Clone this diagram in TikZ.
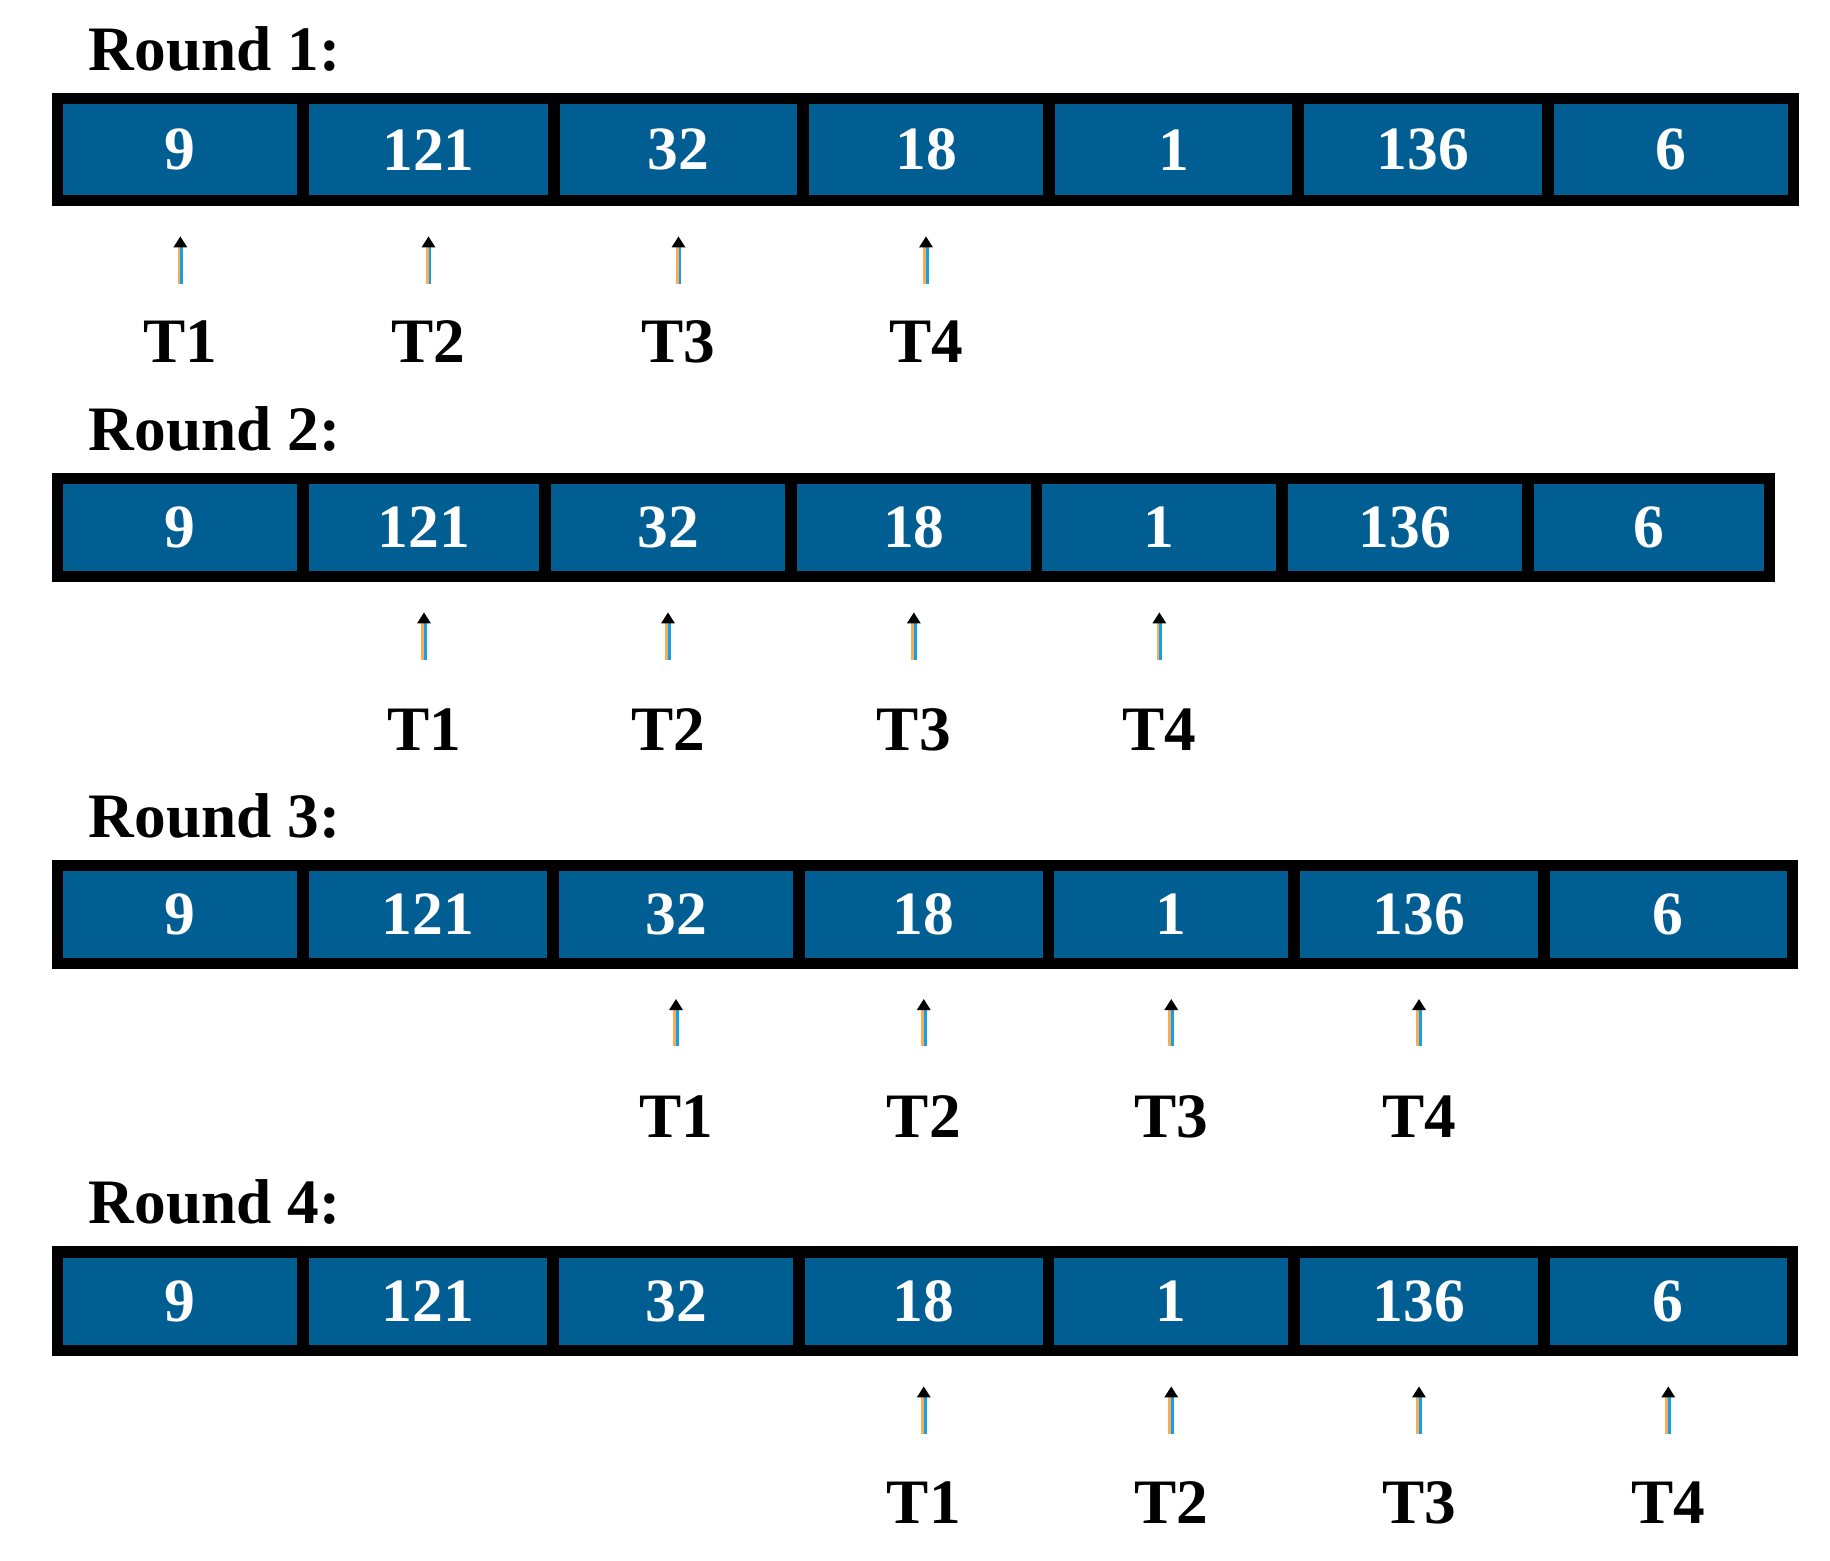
\documentclass[tikz,border=0pt]{standalone}
\usepackage{fontspec}
\setmainfont{Liberation Serif}
\definecolor{cellblue}{RGB}{0,94,146}
\definecolor{arrOr}{RGB}{250,172,84}
\definecolor{arrBl}{RGB}{20,160,230}
\tikzset{
  cell/.style={draw=black, fill=cellblue, line width=0.115cm, inner sep=0pt, text=white,
    font=\fontsize{17.5}{20}\selectfont\bfseries},
  lbl/.style={inner sep=0pt, font=\fontsize{18}{21}\selectfont\bfseries},
  roundtitle/.style={inner sep=0pt, anchor=base west, font=\fontsize{18}{21}\selectfont\bfseries},
  shaftor/.style={draw=arrOr, line width=0.028cm},
  shaftbl/.style={draw=arrBl, line width=0.028cm},
  headfill/.style={fill=black},
}
\newcommand{\mkcell}[6]{%
  \pgfmathsetmacro\cw{(#3-#2)*0.01}%
  \pgfmathsetmacro\ch{(#5-#4)*0.01}%
  \node[cell, minimum width=\cw cm, minimum height=\ch cm] (#1) at ({(#2+#3)/2},{(#4+#5)/2}) {#6};}
\newcommand{\mkptr}[1]{%
  \draw[shaftor] ([xshift=-0.014cm,yshift=-0.77cm]#1.south) -- ([xshift=-0.014cm,yshift=-0.38cm]#1.south);
  \draw[shaftbl] ([xshift=0.014cm,yshift=-0.77cm]#1.south) -- ([xshift=0.014cm,yshift=-0.38cm]#1.south);
  \fill[headfill] ([yshift=-0.30cm]#1.south) -- ++(-0.07cm,-0.11cm) -- ++(0.14cm,0cm) -- cycle;}
\begin{document}
\begin{tikzpicture}[x=0.01cm, y=-0.01cm]
\fill[white] (0,0) rectangle (1830,1560);
\useasboundingbox (0,0) rectangle (1830,1560);

% Round 1
\node[roundtitle] (r1) at (88,70) {Round 1:};
\mkcell{c11}{57.7}{303}{98.7}{200.7}{9}
\mkcell{c12}{303}{554}{98.7}{200.7}{121}
\mkcell{c13}{554}{803}{98.7}{200.7}{32}
\mkcell{c14}{803}{1049}{98.7}{200.7}{18}
\mkcell{c15}{1049}{1298}{98.7}{200.7}{1}
\mkcell{c16}{1298}{1548}{98.7}{200.7}{136}
\mkcell{c17}{1548}{1793.3}{98.7}{200.7}{6}
\mkptr{c11}\mkptr{c12}\mkptr{c13}\mkptr{c14}
\node[lbl] (t11) at (180.35,341.5) {T1};
\node[lbl] (t12) at (428.5,341.5) {T2};
\node[lbl] (t13) at (678.5,341.5) {T3};
\node[lbl] (t14) at (926,341.5) {T4};

% Round 2
\node[roundtitle] (r2) at (88,450) {Round 2:};
\mkcell{c21}{57.7}{303}{478.3}{576.7}{9}
\mkcell{c22}{303}{545}{478.3}{576.7}{121}
\mkcell{c23}{545}{791}{478.3}{576.7}{32}
\mkcell{c24}{791}{1036.7}{478.3}{576.7}{18}
\mkcell{c25}{1036.7}{1282}{478.3}{576.7}{1}
\mkcell{c26}{1282}{1528}{478.3}{576.7}{136}
\mkcell{c27}{1528}{1769.7}{478.3}{576.7}{6}
\mkptr{c22}\mkptr{c23}\mkptr{c24}\mkptr{c25}
\node[lbl] (t21) at (424,729.5) {T1};
\node[lbl] (t22) at (668,729.5) {T2};
\node[lbl] (t23) at (913.85,729.5) {T3};
\node[lbl] (t24) at (1159.35,729.5) {T4};

% Round 3
\node[roundtitle] (r3) at (88,837) {Round 3:};
\mkcell{c31}{57.7}{303}{865.3}{963.3}{9}
\mkcell{c32}{303}{553}{865.3}{963.3}{121}
\mkcell{c33}{553}{799}{865.3}{963.3}{32}
\mkcell{c34}{799}{1048.5}{865.3}{963.3}{18}
\mkcell{c35}{1048.5}{1294}{865.3}{963.3}{1}
\mkcell{c36}{1294}{1544}{865.3}{963.3}{136}
\mkcell{c37}{1544}{1792.5}{865.3}{963.3}{6}
\mkptr{c33}\mkptr{c34}\mkptr{c35}\mkptr{c36}
\node[lbl] (t31) at (676,1117) {T1};
\node[lbl] (t32) at (923.75,1117) {T2};
\node[lbl] (t33) at (1171.25,1117) {T3};
\node[lbl] (t34) at (1419,1117) {T4};

% Round 4
\node[roundtitle] (r4) at (88,1223.5) {Round 4:};
\mkcell{c41}{57.7}{303}{1252}{1350.7}{9}
\mkcell{c42}{303}{553}{1252}{1350.7}{121}
\mkcell{c43}{553}{799}{1252}{1350.7}{32}
\mkcell{c44}{799}{1048.5}{1252}{1350.7}{18}
\mkcell{c45}{1048.5}{1294}{1252}{1350.7}{1}
\mkcell{c46}{1294}{1544}{1252}{1350.7}{136}
\mkcell{c47}{1544}{1792.5}{1252}{1350.7}{6}
\mkptr{c44}\mkptr{c45}\mkptr{c46}\mkptr{c47}
\node[lbl] (t41) at (923.75,1503) {T1};
\node[lbl] (t42) at (1171.25,1503) {T2};
\node[lbl] (t43) at (1419,1503) {T3};
\node[lbl] (t44) at (1668.25,1503) {T4};
\end{tikzpicture}
\end{document}
